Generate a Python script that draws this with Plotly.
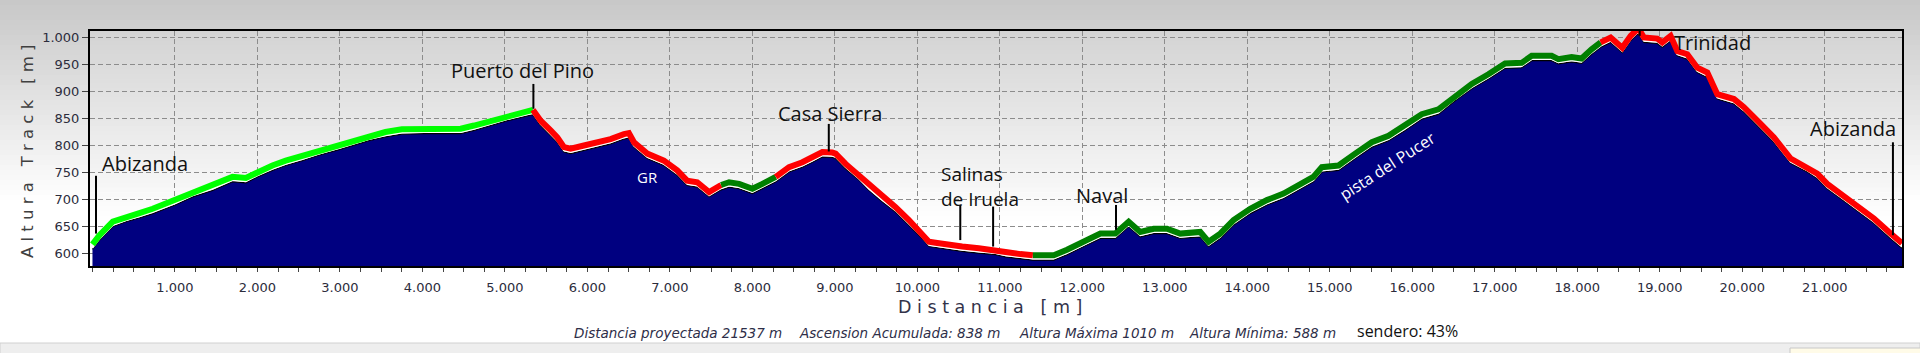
import plotly.graph_objects as go

# ---------------- data ----------------
dist_m = [0, 85, 246, 407, 569, 730, 1000, 1214, 1456, 1698, 1859, 2000, 2181, 2343, 2544,
          2746, 3000, 3149, 3351, 3552, 3750, 4020, 4464, 4626, 4828, 5030, 5272, 5340,
          5433, 5554, 5635, 5716, 5797, 5958, 6120, 6281, 6442, 6503, 6564, 6725, 6927,
          7088, 7209, 7331, 7475, 7620, 7717, 7839, 8000, 8121, 8283, 8444, 8606, 8727,
          8848, 8969, 9009, 9130, 9292, 9413, 9574, 9736, 9897, 10059, 10140, 10220,
          10382, 10543, 10745, 10947, 11068, 11249, 11400, 11653, 11814, 12016, 12218,
          12400, 12561, 12702, 12864, 13025, 13187, 13429, 13530, 13671, 13833, 14035,
          14237, 14439, 14640, 14800, 14903, 15105, 15307, 15509, 15711, 15912, 16114,
          16316, 16518, 16720, 16922, 17124, 17325, 17447, 17689, 17770, 17931, 18052,
          18173, 18283, 18404, 18545, 18646, 18740, 18808, 18970, 19030, 19131, 19212,
          19333, 19455, 19576, 19697, 19899, 20020, 20222, 20384, 20586, 20788, 20909,
          21030, 21192, 21354, 21596, 21798, 21936]
elev_m = [608, 625, 650, 659, 666, 674, 690, 705, 717, 733, 731, 742, 754, 763, 772,
          782, 793, 800, 809, 816, 821, 822, 822, 828, 837, 846, 855, 857,
          837, 819, 806, 788, 785, 791, 797, 803, 812, 814, 797, 776, 763,
          745, 726, 723, 705, 718, 723, 720, 711, 720, 733, 751, 760, 769,
          779, 778, 776, 757, 736, 717, 696, 677, 653, 628, 613, 611,
          607, 604, 601, 598, 594, 590, 588, 588, 598, 613, 628,
          628, 650, 631, 637, 637, 628, 631, 613, 628, 653, 674,
          690, 702, 720, 733, 751, 754, 776, 797, 809, 828, 849,
          858, 883, 905, 923, 943, 944, 957, 957, 951, 955, 952,
          969, 982, 991, 972, 994, 1008, 991, 989, 982, 994, 966,
          960, 935, 926, 886, 877, 862, 831, 806, 767, 751, 739,
          720, 702, 684, 656, 628, 610]

# track type segments (start/end distance, colour)
segment_start = [0, 5340, 7620, 8283, 11400, 18283]
segment_end = [5340, 7620, 8283, 11400, 18283, 21936]
segment_color = ["#00ff00", "#ff0000", "#008000", "#ff0000", "#008000", "#ff0000"]

# place names
place_names = ["Abizanda", "Puerto del Pino", "Casa Sierra", "Salinas<br>de Iruela",
               "Naval", "Alto del Pino", "Trinidad", "Abizanda"]
place_dist = [91, 5210, 8946, 10267, 12241, 18166, 19644, 21339]
place_alt = [767, 939, 859, 724, 708, 1036, 990, 832]
place_anchor = ["left", "center", "center", "left", "center", "center", "center", "center"]
place_size = [20, 20, 20, 19, 20, 20, 20, 20]

# marker sticks
marker_dist = [43, 5345, 8926, 10520, 10918, 12408, 18756, 21826]
marker_top = [744, 914, 840, 690, 687, 690, 1016, 806]
marker_bottom = [637, 868, 789, 625, 613, 644, 1003, 634]

# on-profile labels (white)
track_labels = ["GR", "pista del Pucer"]
track_label_dist = [6730, 15692]
track_label_alt = [741, 763]
track_label_angle = [0, -33]
track_label_size = [15, 16]

x_tick_vals = [1000, 2000, 3000, 4000, 5000, 6000, 7000, 8000, 9000, 10000, 11000,
               12000, 13000, 14000, 15000, 16000, 17000, 18000, 19000, 20000, 21000]
y_tick_vals = [600, 650, 700, 750, 800, 850, 900, 950, 1000]

summary_texts = ["Distancia proyectada 21537 m", "Ascension Acumulada: 838 m",
                 "Altura Máxima 1010 m", "Altura Mínima: 588 m"]
summary_x_px = [572, 797, 1017, 1187]
sendero_text = "sendero: 43%"

# ---------------- layout geometry ----------------
W, H = 1920, 353
L, R, T, B = 90, 18, 31, 87
PW, PH = W - L - R, H - T - B


def px_x(px):
    return (px - L) / PW


def px_y(py):
    return (H - B - py) / PH


LINE_OFFSET = 9  # colored track line is drawn slightly above the profile

fig = go.Figure()

# filled profile
fig.add_trace(go.Scatter(x=dist_m, y=elev_m, mode="lines", fill="tozeroy",
                         fillcolor="#000080", line=dict(color="#000000", width=1.2),
                         hoverinfo="skip"))
# white halo
fig.add_trace(go.Scatter(x=dist_m, y=[v + 3 for v in elev_m], mode="lines",
                         line=dict(color="#ffffff", width=2), hoverinfo="skip"))
# colored segments
for s0, s1, col in zip(segment_start, segment_end, segment_color):
    xs = [d for d in dist_m if s0 <= d <= s1]
    ys = [v + LINE_OFFSET for d, v in zip(dist_m, elev_m) if s0 <= d <= s1]
    fig.add_trace(go.Scatter(x=xs, y=ys, mode="lines", line=dict(color=col, width=6),
                             hoverinfo="skip"))

shapes = []
# paper gradient background
n = 40
for i in range(n):
    y0p = i * 200 / n
    y1p = (i + 1) * 200 / n
    c = int(200 + 55 * (i + 0.5) / n)
    shapes.append(dict(type="rect", xref="paper", yref="paper", x0=px_x(0), x1=px_x(W),
                       y0=px_y(y1p), y1=px_y(y0p), fillcolor=f"rgb({c},{c},{c})",
                       line=dict(width=0), layer="below"))
# plot area gradient
for i in range(n):
    y0p = T + i * 190 / n
    y1p = T + (i + 1) * 190 / n
    c = min(255, int(212 + 43 * (i + 0.5) / n))
    shapes.append(dict(type="rect", xref="paper", yref="paper", x0=0, x1=1,
                       y0=px_y(y1p), y1=px_y(y0p), fillcolor=f"rgb({c},{c},{c})",
                       line=dict(width=0), layer="below"))
# status bar at the bottom
shapes.append(dict(type="rect", xref="paper", yref="paper", x0=px_x(0), x1=px_x(W),
                   y0=px_y(H + 2), y1=px_y(343), fillcolor="#eeeeee",
                   line=dict(color="#d0d0d0", width=1), layer="above"))
shapes.append(dict(type="rect", xref="paper", yref="paper", x0=px_x(1790), x1=px_x(W + 2),
                   y0=px_y(H + 2), y1=px_y(348), fillcolor="#fffbe8",
                   line=dict(color="#c8c8c8", width=1), layer="above"))
# marker sticks
for d, y0, y1 in zip(marker_dist, marker_bottom, marker_top):
    shapes.append(dict(type="line", xref="x", yref="y", x0=d, x1=d, y0=y0, y1=y1,
                       line=dict(color="#000000", width=2), layer="above"))

annotations = []
for name, d, a, anc, sz in zip(place_names, place_dist, place_alt, place_anchor, place_size):
    annotations.append(dict(x=d, y=a, xref="x", yref="y", text=name, showarrow=False,
                            xanchor=anc, yanchor="middle", align="left",
                            font=dict(family="Open Sans", size=sz, color="#111111")))
for t, d, a, ang, sz in zip(track_labels, track_label_dist, track_label_alt,
                            track_label_angle, track_label_size):
    annotations.append(dict(x=d, y=a, xref="x", yref="y", text=t, showarrow=False,
                            textangle=ang, xanchor="center", yanchor="middle",
                            font=dict(family="Open Sans", size=sz, color="#ffffff")))

NB = "\u00a0"
x_title = NB.join(list("Distancia")) + NB * 3 + NB.join(list("[m]"))
y_title = NB.join(list("Altura")) + NB * 3 + NB.join(list("Track")) + NB * 3 + NB.join(list("[m]"))
annotations.append(dict(x=px_x(990), y=px_y(307), xref="paper", yref="paper", text=x_title,
                        showarrow=False, xanchor="center", yanchor="middle",
                        font=dict(family="DejaVu Sans", size=17.5, color="#33334a")))
annotations.append(dict(x=px_x(27), y=px_y(152), xref="paper", yref="paper", text=y_title,
                        showarrow=False, textangle=-90, xanchor="center", yanchor="middle",
                        font=dict(family="DejaVu Sans", size=16.5, color="#404040")))
for t, xp in zip(summary_texts, summary_x_px):
    annotations.append(dict(x=px_x(xp), y=px_y(333), xref="paper", yref="paper",
                            text=f"<i>{t}</i>", showarrow=False, xanchor="left",
                            yanchor="middle",
                            font=dict(family="DejaVu Sans", size=13.5, color="#2e2e48")))
annotations.append(dict(x=px_x(1355), y=px_y(331), xref="paper", yref="paper",
                        text=sendero_text, showarrow=False, xanchor="left", yanchor="middle",
                        font=dict(family="Open Sans", size=16, color="#111111")))

tickfont = dict(family="DejaVu Sans", size=13, color="#2c2c3c")
fig.update_layout(
    width=W, height=H,
    margin=dict(l=L, r=R, t=T, b=B, pad=0),
    paper_bgcolor="#ffffff", plot_bgcolor="#ffffff",
    separators=",.",
    showlegend=False,
    shapes=shapes,
    annotations=annotations,
    xaxis=dict(range=[-30, 21936], tickmode="array", tickvals=x_tick_vals,
               tickformat=",d", showgrid=True, gridcolor="#8c8c8c", griddash="5px,3px",
               gridwidth=1, showline=True, linecolor="#000000", linewidth=2, mirror=True,
               ticks="outside", ticklen=4, tickcolor="#444444", tickwidth=1,
               minor=dict(tick0=0, dtick=250, ticks="outside", ticklen=4,
                          tickcolor="#444444", showgrid=False),
               tickfont=tickfont, zeroline=False, ticklabelstandoff=4),
    yaxis=dict(range=[577, 1012], tickmode="array", tickvals=y_tick_vals,
               tickformat=",d", showgrid=True, gridcolor="#8c8c8c", griddash="5px,3px",
               gridwidth=1, showline=True, linecolor="#000000", linewidth=2, mirror=True,
               ticks="outside", ticklen=6, tickcolor="#444444", tickwidth=1,
               tickfont=tickfont, zeroline=False),
)

fig.write_html("out.html")
